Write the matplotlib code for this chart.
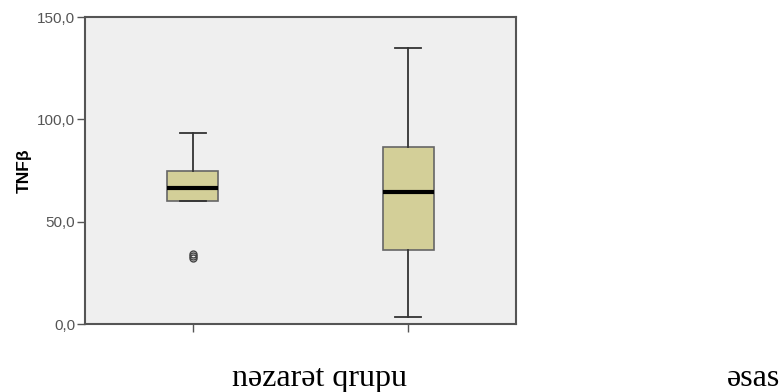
import matplotlib
matplotlib.use("Agg")
import matplotlib.pyplot as plt

# values
groups = ["nəzarət qrupu", "əsas"]
whislo = [60.2, 3.7]
q1 = [60.4, 36.3]
med = [66.6, 64.8]
q3 = [74.9, 86.5]
whishi = [93.3, 135.1]
fliers = [[34.5, 33.4, 32.3], []]
yticks = [0, 50, 100, 150]
ylabels = ["0,0", "50,0", "100,0", "150,0"]

stats = []
for i in range(len(groups)):
    stats.append({"whislo": whislo[i], "q1": q1[i], "med": med[i], "q3": q3[i],
                  "whishi": whishi[i], "fliers": fliers[i], "label": ""})

fig = plt.figure(figsize=(7.81, 3.92), dpi=100)
ax = fig.add_axes([0.1088, 0.1727, 0.5519, 0.7839])
ax.set_facecolor("#efefef")

ax.bxp(stats, positions=[1, 2], widths=0.235, patch_artist=True,
       boxprops=dict(facecolor="#d3cf98", edgecolor="#666666", linewidth=1.2),
       medianprops=dict(color="black", linewidth=3),
       whiskerprops=dict(color="#333333", linewidth=1.3),
       capprops=dict(color="#333333", linewidth=1.3),
       capwidths=0.12,
       flierprops=dict(marker="o", markersize=5, markerfacecolor="none",
                       markeredgecolor="#444444", markeredgewidth=1.0))

ax.set_xlim(0.5, 2.5)
ax.set_ylim(0, 150)
ax.set_yticks(yticks)
ax.set_yticklabels(ylabels, fontsize=11, color="#555555", family="Liberation Sans")
ax.set_xticks([1, 2])
ax.set_xticklabels(["", ""])
ax.tick_params(axis="both", direction="out", length=6, width=1, color="#555555", pad=1)
for s in ax.spines.values():
    s.set_color("#555555")
    s.set_linewidth(1.5)

ax.set_ylabel("TNFβ", fontsize=12.5, fontweight="bold", family="Liberation Sans", labelpad=4)

# category names placed below, as in the source document
fig.text(320 / 781, 1 - 386 / 392, groups[0], ha="center", va="baseline",
         fontsize=23, family="Liberation Serif")
fig.text(754 / 781, 1 - 386 / 392, groups[1], ha="center", va="baseline",
         fontsize=23, family="Liberation Serif")

fig.savefig("out.png", dpi=100)
